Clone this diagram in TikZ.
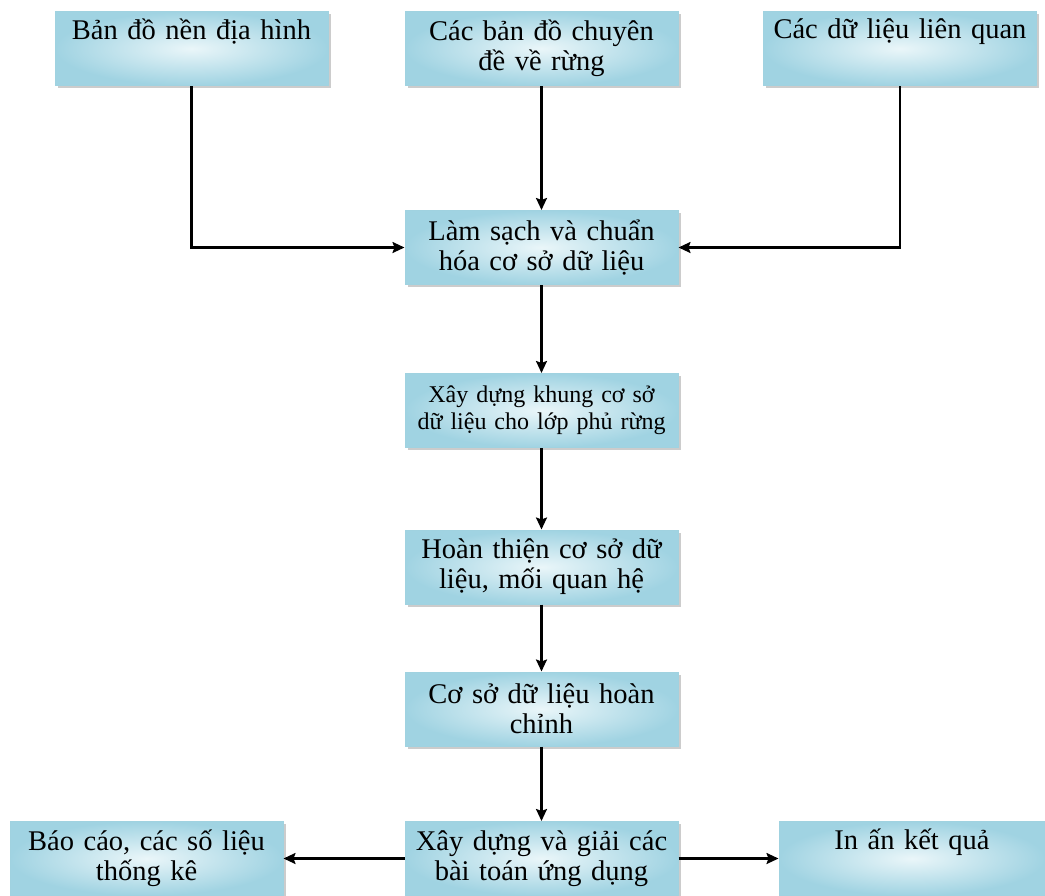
\documentclass[tikz,border=0pt]{standalone}
\usepackage{fontspec}
\setmainfont{Liberation Serif}
\usetikzlibrary{arrows.meta,shadows,positioning}
\definecolor{boxedge}{RGB}{160,210,224}
\definecolor{boxin}{RGB}{234,246,249}
\definecolor{boxout}{RGB}{160,211,226}
\tikzset{
    stepbox/.style={
        rectangle,
        draw=boxedge, line width=1pt,
        inner color=boxin, outer color=boxout,
        drop shadow={shadow xshift=2.5pt, shadow yshift=-2.5pt, opacity=0.4},
        minimum width=273pt,
        minimum height=74pt,
        text width=266pt,
        inner sep=0pt,
        align=center,
        font={\fontsize{28.5pt}{30pt}\selectfont},
    },
    smallbox/.style={
        stepbox,
        font={\fontsize{24pt}{27pt}\selectfont},
    },
    flow/.style={draw=black, line width=2.2pt, ->},
}
\begin{document}
\begin{tikzpicture}[x=1pt, y=-1pt, >={Stealth[length=12pt, width=11pt, inset=2pt]}]

\useasboundingbox (0,0) rectangle (1045,895);

% inputs
\node [stepbox] (ban-do) at (191.5,48.5) {Bản đồ nền địa hình\\\strut};
\node [stepbox] (chuyen-de) at (541.5,48.5) {Các bản đồ chuyên\\đề về rừng};
\node [stepbox] (lien-quan) at (900,48.5) {Các dữ liệu liên quan\\\strut};

% main chain
\node [stepbox] (lam-sach) at (541.5,247.5) {Làm sạch và chuẩn\\hóa cơ sở dữ liệu};
\node [smallbox] (khung) at (541.5,410.5) {Xây dựng khung cơ sở\\dữ liệu cho lớp phủ rừng};
\node [stepbox] (hoan-thien) at (541.5,567) {Hoàn thiện cơ sở dữ\\liệu, mối quan hệ};
\node [stepbox] (hoan-chinh) at (541.5,709) {Cơ sở dữ liệu hoàn\\chỉnh};
\node [stepbox] (bai-toan) at (541.5,858.5) {Xây dựng và giải các\\bài toán ứng dụng};

% outputs
\node [stepbox] (bao-cao) at (146.5,858.5) {Báo cáo, các số liệu\\thống kê};
\node [stepbox, minimum width=266pt] (in-an) at (912,858.5) {In ấn kết quả\\\strut};

\draw [flow] (ban-do.south) |- (lam-sach.west);
\draw [flow] (lien-quan.south) |- (lam-sach.east);
\draw [flow] (chuyen-de) -- (lam-sach);
\draw [flow] (lam-sach) -- (khung);
\draw [flow] (khung) -- (hoan-thien);
\draw [flow] (hoan-thien) -- (hoan-chinh);
\draw [flow] (hoan-chinh) -- (bai-toan);
\draw [flow] (bai-toan) -- (bao-cao);
\draw [flow] (bai-toan) -- (in-an);

\end{tikzpicture}
\end{document}
